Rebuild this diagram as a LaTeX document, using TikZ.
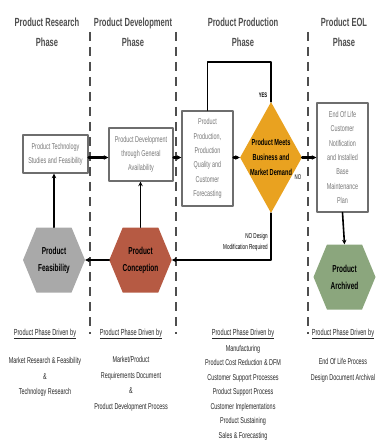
\documentclass[tikz,border=0pt]{standalone}
\usepackage{fontspec}
\setmainfont[FakeStretch=0.64]{Liberation Sans}
\usetikzlibrary{shapes.geometric,shapes.symbols,arrows.meta}
\definecolor{titlegray}{HTML}{4E4E4E}
\definecolor{boxgray}{HTML}{6E6E6E}
\definecolor{textgray}{HTML}{777777}
\definecolor{feasgray}{HTML}{A9A9A9}
\definecolor{concred}{HTML}{B65A43}
\definecolor{archgreen}{HTML}{8BA67D}
\definecolor{demandorange}{HTML}{E9A220}
\begin{document}
\begin{tikzpicture}[x=1pt,y=-1pt,line join=round,line cap=round,>={Stealth[length=4.5pt,width=4.5pt]}]
	\tikzset{phasetitle/.style={text=titlegray,align=center,font=\fontsize{11.8}{20}\selectfont\bfseries},
		divider/.style={draw=titlegray,line width=1.2pt,line cap=butt,dash pattern=on 9pt off 6pt},
		box/.style={draw=boxgray,line width=1.4pt,fill=white,text=textgray,align=center,inner sep=2pt,font=\fontsize{8.5}{14.3}\selectfont},
		hexa/.style={signal,signal to=east and west,signal pointer angle=135,minimum width=62pt,minimum height=65pt,inner sep=0pt,align=center,font=\fontsize{10.1}{17}\selectfont\bfseries},
		decision/.style={diamond,fill=demandorange,minimum width=62pt,minimum height=111pt,inner sep=0pt},
		flow/.style={draw=black,line width=1.6pt},
		thickflow/.style={draw=black,line width=2.6pt},
		tag/.style={font=\fontsize{6.8}{7}\selectfont,inner sep=0pt},
		drivenby/.style={text=black!85,font=\fontsize{8.8}{15}\selectfont},
		drivelist/.style={text=black!85,align=center,font=\fontsize{8.5}{15.5}\selectfont}}
	\useasboundingbox (0,0) rectangle (379,446);
	% phases
	\foreach \x/\t [count=\i] in {47/Product Research,133/Product Development,243/Product Production,344/Product EOL}
		\node[phasetitle] (phase\i) at (\x,32) {\t\\Phase};
	\foreach \x in {90,176,308}
		\draw[divider] (\x,32)--(\x,334);
	% process boxes
	\node[box,minimum width=65pt,minimum height=38pt] (tech) at (55.5,154) {Product Technology\\Studies and Feasibility};
	\node[box,minimum width=64pt,minimum height=53pt] (dev) at (141,154.5) {Product Development\\through General\\Availability};
	\node[box,minimum width=51pt,minimum height=95pt] (prod) at (207.5,158.5) {Product\\Production,\\Production\\Quality and\\Customer\\Forecasting};
	\node[decision,label={[align=center,font=\fontsize{8.8}{15}\selectfont\bfseries]center:Product Meets\\Business and\\Market Demand}] (meets) at (271,157.5) {};
	\node[box,minimum width=51pt,minimum height=109pt] (eol) at (342.5,157.5) {End Of Life\\Customer\\Notification\\and Installed\\Base\\Maintenance\\Plan};
	\node[hexa,fill=feasgray] (feas) at (54,260) {Product\\Feasibility};
	\node[hexa,fill=concred] (conc) at (140.5,260) {Product\\Conception};
	\node[hexa,fill=archgreen] (arch) at (344.5,277) {Product\\Archived};
	% connectors
	\draw[flow,->] (feas.north) -- (feas.north |- tech.south);
	\draw[thickflow,->] (tech.east |- meets) -- (dev.west |- meets);
	\draw[thickflow,->] (dev.east |- meets) -- (prod.west |- meets);
	\draw[thickflow,->] (prod.east |- meets) -- (meets.west);
	\draw[thickflow,->] (meets.east) -- (eol.west |- meets);
	\draw[flow,->] (eol.south) -- (arch.north);
	\draw[flow] (meets.north) -- ++(0,-40) -| (prod.north);
	\draw[flow,->] (meets.south) |- (conc.east);
	\draw[thickflow,->] (conc.west) -- (feas.east);
	\draw[flow,->] (conc.north) -- (conc.north |- dev.south);
	\node[tag,font=\fontsize{6.6}{7}\selectfont\bfseries] (yes) at (263,95) {YES};
	\node[tag] (no) at (298,177) {NO};
	\node[tag,anchor=east,align=right,font=\fontsize{7.2}{11}\selectfont] (nodesign) at (268,242.5) {NO Design\\Modification Required};
	% driven by
	\foreach \x [count=\i] in {45,131,243,343}
		\node[drivenby] (driven\i) at (\x,334) {\underline{Product Phase Driven by}};
	\node[drivelist] (list1) at (45,377) {Market Research \& Feasibility\\\&\\Technology Research};
	\node[drivelist] (list2) at (131,384) {Market/Product\\Requirements Document\\\&\\Product Development Process};
	\node[drivelist,font=\fontsize{8.5}{14.5}\selectfont] (list3) at (243,392.5) {Manufacturing\\Product Cost Reduction \& DFM\\Customer Support Processes\\Product Support Process\\Customer Implementations\\Product Sustaining\\Sales \& Forecasting};
	\node[drivelist] (list4) at (343,370.5) {End Of Life Process\\Design Document Archival};
\end{tikzpicture}
\end{document}
